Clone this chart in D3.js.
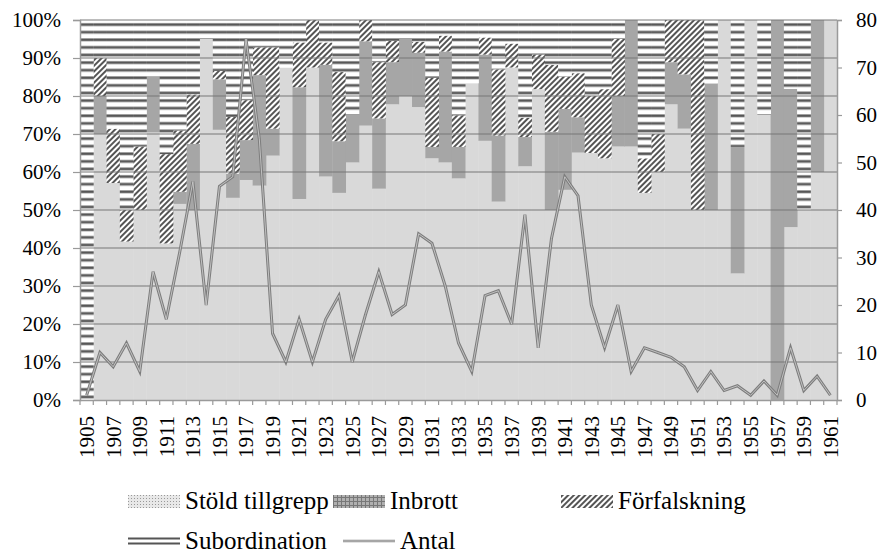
<!DOCTYPE html>
<html>
<head>
<meta charset="utf-8">
<script src="https://d3js.org/d3.v7.min.js"></script>
<style>
  body { margin: 0; background: #fff; }
</style>
</head>
<body>
<div id="chart"></div>
<script>
// categories
const years = [1905,1906,1907,1908,1909,1910,1911,1912,1913,1914,1915,1916,1917,1918,1919,
  1920,1921,1922,1923,1924,1925,1926,1927,1928,1929,1930,1931,1932,1933,1934,
  1935,1936,1937,1938,1939,1940,1941,1942,1943,1944,1945,1946,1947,1948,1949,
  1950,1951,1952,1953,1954,1955,1956,1957,1958,1959,1960,1961];

// shares in percent (left axis)
const stold = [0,70,57.1,41.7,50,70.4,41.2,51.6,50,95,71.1,53.2,57.9,56.4,64.3,
  87.5,52.9,87.5,58.8,54.5,62.5,72.2,55.6,77.8,80,77.1,63.6,62.5,58.3,83.3,
  68.2,52.2,87.5,61.5,81.8,50,55.3,65.1,65,63.6,66.7,66.7,54.5,60,77.8,
  71.4,50,50,100,33.3,100,75,0,45.5,50,60,100];
const inbrott = [0,10,0,0,0,14.8,0,3.2,17.4,0,13.3,6.4,10.5,29.1,7.1,
  0,29.4,0,29.4,13.6,12.5,22.2,18.5,11.1,15,14.3,3,29.2,8.3,0,
  22.7,17.4,0,7.7,0,20.6,21.3,9.3,0,0,13.3,33.3,0,0,11.1,
  14.3,0,33.3,0,33.3,0,0,100,36.4,0,40,0];
const forfalskning = [0,10,14.3,8.3,16.7,0,23.5,16.1,13,0,2.2,14.9,10.5,7.3,21.4,
  0,11.8,12.5,5.9,18.2,0,5.6,14.8,5.6,0,2.9,18.2,4.2,8.3,0,
  4.5,17.4,6.3,5.1,9.1,17.6,8.5,11.6,15,18.2,15,0,9.1,10,11.1,
  14.3,50,0,0,0,0,0,0,0,0,0,0];
const subordination = [100,10,28.6,50,33.3,14.8,35.3,29.1,19.6,5,13.4,25.5,21.1,7.2,7.2,
  12.5,5.9,0,5.9,13.7,25,0,11.1,5.5,5,5.7,15.2,4.1,25.1,16.7,
  4.6,13,6.2,25.7,9.1,11.8,14.9,14,20,18.2,5,0,36.4,30,0,
  0,0,16.7,0,33.4,0,25,0,18.1,50,0,0];

// number of cases (right axis)
const antal = [1,10,7,12,6,27,17,31,46,20,45,47,76,55,14,
  8,17,8,17,22,8,18,27,18,20,35,33,24,12,6,
  22,23,16,39,11,34,47,43,20,11,20,6,11,10,9,
  7,2,6,2,3,1,4,1,11,2,5,1];

const leftTicks = [0,10,20,30,40,50,60,70,80,90,100];
const rightTicks = [0,10,20,30,40,50,60,70,80];

const keys = ["Stöld tillgrepp", "Inbrott", "Förfalskning", "Subordination"];

const rows = years.map((y, i) => ({
  year: y,
  "Stöld tillgrepp": stold[i],
  "Inbrott": inbrott[i],
  "Förfalskning": forfalskning[i],
  "Subordination": subordination[i],
  antal: antal[i]
}));

const FONT = '"Liberation Serif", "Times New Roman", serif';

const width = 883, height = 555;
const margin = { top: 20, right: 46, bottom: 155, left: 80 };
const plotW = width - margin.left - margin.right;
const plotH = height - margin.top - margin.bottom;

const svg = d3.select("#chart").append("svg")
  .attr("width", width)
  .attr("height", height)
  .attr("font-family", FONT);

// patterns
const defs = svg.append("defs");

const stripes = defs.append("pattern")
  .attr("id", "stripes")
  .attr("patternUnits", "userSpaceOnUse")
  .attr("width", 8).attr("height", 7.6)
  .attr("y", margin.top + 1);
stripes.append("rect").attr("width", 8).attr("height", 7.6).attr("fill", "#fff");
stripes.append("rect").attr("y", 2).attr("width", 8).attr("height", 3.2).attr("fill", "#9a9a9a");
stripes.append("rect").attr("y", 2.7).attr("width", 8).attr("height", 1.8).attr("fill", "#555");

const hatch = defs.append("pattern")
  .attr("id", "hatch")
  .attr("patternUnits", "userSpaceOnUse")
  .attr("width", 4).attr("height", 4)
  .attr("patternTransform", "rotate(45)");
hatch.append("rect").attr("width", 4).attr("height", 4).attr("fill", "#fff");
hatch.append("rect").attr("width", 2).attr("height", 4).attr("fill", "#555");

const dots = defs.append("pattern")
  .attr("id", "dotsLeg")
  .attr("patternUnits", "userSpaceOnUse")
  .attr("width", 3).attr("height", 3);
dots.append("rect").attr("width", 3).attr("height", 3).attr("fill", "#e8e8e8");
dots.append("rect").attr("width", 1).attr("height", 1).attr("fill", "#999");

const grid = defs.append("pattern")
  .attr("id", "gridLeg")
  .attr("patternUnits", "userSpaceOnUse")
  .attr("width", 4).attr("height", 4);
grid.append("rect").attr("width", 4).attr("height", 4).attr("fill", "#b0b0b0");
grid.append("rect").attr("width", 4).attr("height", 1).attr("fill", "#777");
grid.append("rect").attr("width", 1).attr("height", 4).attr("fill", "#777");

const fills = {
  "Stöld tillgrepp": "#d9d9d9",
  "Inbrott": "#a6a6a6",
  "Förfalskning": "url(#hatch)",
  "Subordination": "url(#stripes)"
};

const x = d3.scaleBand()
  .domain(years)
  .range([margin.left, margin.left + plotW])
  .padding(0);

const y = d3.scaleLinear()
  .domain([0, 100])
  .range([margin.top + plotH, margin.top]);

const yR = d3.scaleLinear()
  .domain([0, 80])
  .range([margin.top + plotH, margin.top]);

const series = d3.stack().keys(keys)(rows);

// bars
svg.append("g").selectAll("g")
  .data(series)
  .join("g")
  .attr("fill", d => fills[d.key])
  .selectAll("rect")
  .data(d => d)
  .join("rect")
  .attr("x", d => x(d.data.year))
  .attr("y", d => y(d[1]))
  .attr("width", x.bandwidth() + 0.4)
  .attr("height", d => Math.max(0, y(d[0]) - y(d[1])));

// gridlines on top
svg.append("g")
  .selectAll("line")
  .data(leftTicks.filter(t => t > 0))
  .join("line")
  .attr("x1", margin.left).attr("x2", margin.left + plotW)
  .attr("y1", d => y(d)).attr("y2", d => y(d))
  .attr("stroke", "#777")
  .attr("stroke-opacity", 0.65)
  .attr("stroke-width", 1.4);

// axes
const axisColor = "#9a9a9a";

const xAxis = svg.append("g")
  .attr("transform", `translate(0,${margin.top + plotH})`)
  .call(d3.axisBottom(x).tickSize(0).tickFormat((d, i) => i % 2 === 0 ? d : ""));
xAxis.attr("font-family", FONT);
xAxis.select(".domain").attr("stroke", axisColor).attr("stroke-width", 1.5);
xAxis.selectAll("text")
  .attr("transform", "rotate(-90)")
  .attr("text-anchor", "end")
  .attr("x", -16)
  .attr("y", 0)
  .attr("dy", "0.35em")
  .style("font-family", FONT)
  .style("font-size", "21px");

// category boundary ticks
svg.append("g")
  .selectAll("line")
  .data(years.concat(["end"]))
  .join("line")
  .attr("x1", (d, i) => margin.left + i * x.step())
  .attr("x2", (d, i) => margin.left + i * x.step())
  .attr("y1", margin.top + plotH)
  .attr("y2", margin.top + plotH + 5)
  .attr("stroke", axisColor)
  .attr("stroke-width", 1.2);

const yAxis = svg.append("g")
  .attr("transform", `translate(${margin.left},0)`)
  .call(d3.axisLeft(y).tickValues(leftTicks).tickSize(7).tickPadding(12).tickFormat(d => d + "%"));
yAxis.attr("font-family", FONT);
yAxis.select(".domain").attr("stroke", axisColor).attr("stroke-width", 1.5);
yAxis.selectAll(".tick line").attr("stroke", axisColor).attr("stroke-width", 1.2);
yAxis.selectAll("text").style("font-family", FONT).style("font-size", "21px");

const yAxisR = svg.append("g")
  .attr("transform", `translate(${margin.left + plotW},0)`)
  .call(d3.axisRight(yR).tickValues(rightTicks).tickSize(5).tickPadding(14));
yAxisR.attr("font-family", FONT);
yAxisR.select(".domain").attr("stroke", axisColor).attr("stroke-width", 1.5);
yAxisR.selectAll(".tick line").attr("stroke", axisColor).attr("stroke-width", 1.2);
yAxisR.selectAll("text").style("font-family", FONT).style("font-size", "21px");

// Antal line (double line look)
const line = d3.line()
  .x(d => x(d.year) + x.bandwidth() / 2)
  .y(d => yR(d.antal));

svg.append("path")
  .datum(rows)
  .attr("fill", "none")
  .attr("stroke", "#7d7d7d")
  .attr("stroke-width", 3)
  .attr("stroke-linejoin", "miter")
  .attr("d", line);
svg.append("path")
  .datum(rows)
  .attr("fill", "none")
  .attr("stroke", "#c8c8c8")
  .attr("stroke-width", 0.9)
  .attr("d", line);

// legend
const legend = svg.append("g").attr("class", "legend");
const legItems = [
  { label: "Stöld tillgrepp", type: "box", fill: "url(#dotsLeg)", x: 128, y: 501 },
  { label: "Inbrott", type: "box", fill: "url(#gridLeg)", x: 333, y: 501 },
  { label: "Förfalskning", type: "box", fill: "url(#hatch)", x: 561, y: 501 },
  { label: "Subordination", type: "sub", x: 128, y: 541 },
  { label: "Antal", type: "line", x: 343, y: 541 }
];

legItems.forEach(it => {
  const g = legend.append("g").attr("transform", `translate(${it.x},${it.y})`);
  if (it.type === "box") {
    g.append("rect").attr("x", 0).attr("y", -6).attr("width", 52).attr("height", 13).attr("fill", it.fill);
  } else if (it.type === "sub") {
    g.append("rect").attr("x", 0).attr("y", -3.5).attr("width", 52).attr("height", 2).attr("fill", "#555");
    g.append("rect").attr("x", 0).attr("y", 1.5).attr("width", 52).attr("height", 2).attr("fill", "#555");
  } else {
    g.append("line").attr("x1", 0).attr("x2", 52).attr("y1", 0).attr("y2", 0)
      .attr("stroke", "#8a8a8a").attr("stroke-width", 2.6);
    g.append("line").attr("x1", 0).attr("x2", 52).attr("y1", 0).attr("y2", 0)
      .attr("stroke", "#d0d0d0").attr("stroke-width", 0.8);
  }
  g.append("text")
    .attr("x", 57)
    .attr("y", 0)
    .attr("dy", "0.33em")
    .style("font-family", FONT)
    .style("font-size", "25px")
    .text(it.label);
});
</script>
</body>
</html>
